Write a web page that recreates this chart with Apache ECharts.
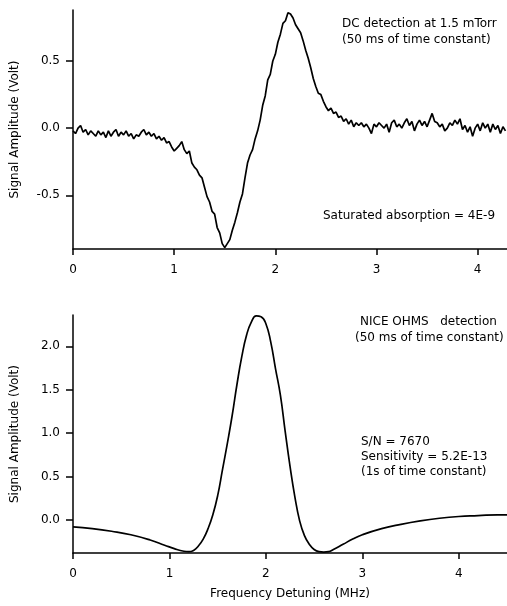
<!DOCTYPE html>
<html>
<head>
<meta charset="utf-8">
<script src="https://cdn.jsdelivr.net/npm/echarts@6/dist/echarts.min.js"></script>
<style>
html,body{margin:0;padding:0;background:#fff;}
#chart{width:507px;height:606px;}
</style>
</head>
<body>
<div id="chart"></div>
<script>
// ---- Data ----
// Top panel: DC detection, sampled every 0.025 MHz starting at 0
const topStartMHz = 0;
const topStepMHz = 0.025;
const topSignal = [
 -0.02,-0.04,0.00,0.02,-0.03,-0.01,-0.05,-0.02,-0.04,-0.06,
 -0.02,-0.05,-0.03,-0.07,-0.02,-0.06,-0.03,-0.01,-0.06,-0.03,
 -0.05,-0.02,-0.06,-0.04,-0.08,-0.05,-0.06,-0.03,-0.01,-0.05,
 -0.03,-0.06,-0.04,-0.08,-0.06,-0.09,-0.07,-0.11,-0.10,-0.14,
 -0.17,-0.15,-0.13,-0.10,-0.16,-0.19,-0.17,-0.26,-0.29,-0.31,
 -0.35,-0.37,-0.44,-0.51,-0.55,-0.62,-0.64,-0.74,-0.78,-0.86,
 -0.89,-0.86,-0.83,-0.76,-0.70,-0.63,-0.55,-0.49,-0.37,-0.26,
 -0.20,-0.16,-0.08,-0.02,0.06,0.17,0.24,0.36,0.40,0.50,
 0.55,0.64,0.70,0.78,0.80,0.86,0.85,0.82,0.77,0.74,
 0.71,0.65,0.58,0.52,0.45,0.37,0.31,0.26,0.25,0.20,
 0.16,0.13,0.15,0.11,0.12,0.08,0.09,0.05,0.07,0.03,
 0.06,0.01,0.04,0.02,0.04,0.01,0.03,0.00,-0.04,0.03,
 0.01,0.04,0.02,0.00,0.03,-0.03,0.04,0.06,0.01,0.03,
 0.00,0.04,0.07,0.02,0.05,-0.02,0.03,0.06,0.02,0.05,
 0.01,0.06,0.11,0.05,0.04,0.01,0.03,-0.02,0.00,0.04,
 0.02,0.06,0.03,0.07,-0.01,0.02,-0.03,0.01,-0.06,0.00,
 0.03,-0.02,0.04,0.00,0.03,-0.03,0.03,-0.01,0.02,-0.04,
 0.01,-0.02
];

// Bottom panel: NICE-OHMS detection
const bottomFreq = [0.0,0.2,0.4,0.6,0.8,0.95,1.05,1.15,1.2,1.25,1.3,1.35,1.4,1.45,1.5,1.55,1.6,1.65,1.7,1.75,1.8,1.85,1.9,1.95,2.0,2.05,2.1,2.15,2.2,2.25,2.3,2.35,2.4,2.45,2.5,2.55,2.6,2.65,2.7,2.8,2.9,3.0,3.2,3.4,3.6,3.8,4.0,4.2,4.4,4.5];
const bottomSignal = [-0.08,-0.10,-0.13,-0.17,-0.23,-0.29,-0.33,-0.36,-0.365,-0.35,-0.30,-0.22,-0.10,0.06,0.28,0.58,0.88,1.20,1.56,1.88,2.13,2.28,2.35,2.34,2.26,2.05,1.74,1.44,1.02,0.62,0.27,-0.01,-0.18,-0.28,-0.34,-0.365,-0.37,-0.365,-0.34,-0.28,-0.22,-0.17,-0.10,-0.05,-0.01,0.02,0.04,0.05,0.06,0.06];

// Ticks
const xTicks = [0,1,2,3,4];
const topYTicks = [-0.5,0,0.5];
const bottomYTicks = [0,0.5,1,1.5,2];

// Annotations
const topNotes = ['DC detection at 1.5 mTorr','(50 ms of time constant)','Saturated absorption = 4E-9'];
const bottomNotes = ['NICE OHMS   detection','(50 ms of time constant)','S/N = 7670','Sensitivity = 5.2E-13','(1s of time constant)'];
const yTitle = 'Signal Amplitude (Volt)';
const xTitle = 'Frequency Detuning (MHz)';

// ---- Build ----
const topData = topSignal.map((v,i)=>[topStartMHz + i*topStepMHz, v]);
const bottomData = bottomFreq.map((f,i)=>[f, bottomSignal[i]]);

const FONT = 'DejaVu Sans';
const axisLineStyle = {color:'#000', width:1.5};

function xAxisDef(gridIndex, max, name){
  return {
    type:'value', gridIndex, min:0, max,
    axisLine:{show:true, onZero:false, lineStyle:axisLineStyle},
    axisTick:{show:true, inside:false, length:6, lineStyle:{color:'#000', width:1.5}, customValues:xTicks},
    axisLabel:{show:true, margin:15, color:'#000', fontFamily:FONT, fontSize:12, customValues:xTicks, formatter:v=>String(Math.round(v))},
    splitLine:{show:false},
    name: name || '',
    nameLocation:'middle', nameGap:35,
    nameTextStyle:{color:'#000', fontFamily:FONT, fontSize:12}
  };
}
function yAxisDef(gridIndex, min, max, ticks){
  return {
    type:'value', gridIndex, min, max,
    axisLine:{show:true, onZero:false, lineStyle:axisLineStyle},
    axisTick:{show:true, inside:false, length:7, lineStyle:{color:'#000', width:1.5}, customValues:ticks},
    axisLabel:{show:true, margin:13, color:'#000', fontFamily:FONT, fontSize:12, customValues:ticks, formatter:v=>v.toFixed(1)},
    splitLine:{show:false},
    name:yTitle, nameLocation:'middle', nameGap:52, nameRotate:90,
    nameTextStyle:{color:'#000', fontFamily:FONT, fontSize:12}
  };
}

function noteText(x, y, text){
  return {type:'text', left:x, top:y, style:{text, fill:'#000', font:'12px "DejaVu Sans"'}};
}

const chart = echarts.init(document.getElementById('chart'), null, {renderer:'canvas'});
chart.setOption({
  animation:false,
  backgroundColor:'#fff',
  grid:[
    {left:73, top:10, width:434, height:239},
    {left:73, top:315, width:434, height:238}
  ],
  xAxis:[xAxisDef(0, 4.29, ''), xAxisDef(1, 4.5, xTitle)],
  yAxis:[yAxisDef(0, -0.9, 0.88, topYTicks), yAxisDef(1, -0.38, 2.36, bottomYTicks)],
  series:[
    {type:'line', xAxisIndex:0, yAxisIndex:0, data:topData, showSymbol:false, symbol:'none',
     lineStyle:{color:'#000', width:1.7}, clip:true},
    {type:'line', xAxisIndex:1, yAxisIndex:1, data:bottomData, showSymbol:false, symbol:'none',
     smooth:0.5,
     lineStyle:{color:'#000', width:1.7}, clip:true}
  ],
  graphic:[
    noteText(342, 18, topNotes[0]),
    noteText(342, 34, topNotes[1]),
    noteText(323, 210, topNotes[2]),
    noteText(360, 316, bottomNotes[0]),
    noteText(355, 332, bottomNotes[1]),
    noteText(361, 436, bottomNotes[2]),
    noteText(361, 451, bottomNotes[3]),
    noteText(361, 466, bottomNotes[4])
  ]
});
</script>
</body>
</html>
